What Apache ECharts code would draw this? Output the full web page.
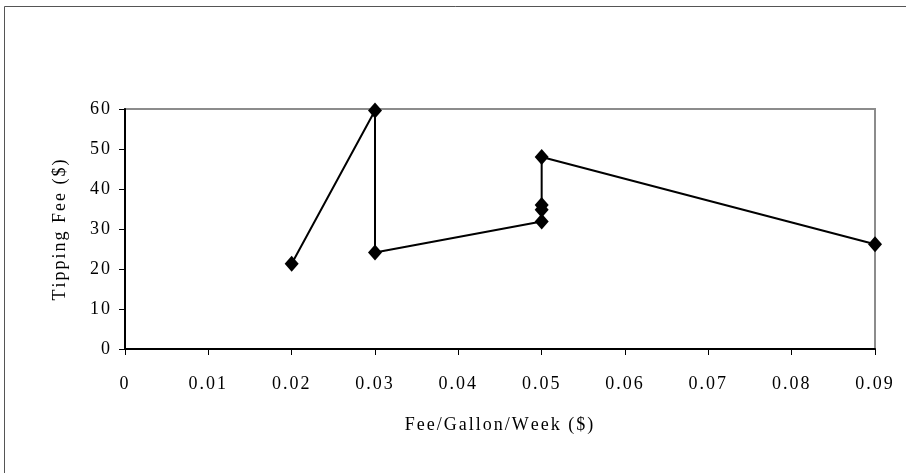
<!DOCTYPE html>
<html>
<head>
<meta charset="utf-8">
<script src="https://cdn.jsdelivr.net/npm/echarts@6/dist/echarts.min.js"></script>
<style>html,body{margin:0;padding:0;background:#fff}#c{width:906px;height:473px}</style>
</head>
<body>
<div id="c"></div>
<script>
const feePerGallon = [0.02, 0.03, 0.03, 0.05, 0.05, 0.05, 0.05, 0.09];
const tippingFee = [21.3, 59.6, 24.1, 31.9, 34.8, 36.0, 48.0, 26.2];
const xTitle = 'Fee/Gallon/Week ($)';
const yTitle = 'Tipping Fee ($)';

const font = 'Liberation Serif, Times New Roman, serif';
const FS = 18;
const LS = 2;
// letter-spaced text via rich tokens (one token per character)
const spaced = s => s.split('').map(c => '{s|' + c + '}').join('');
const richS = {s: {fontFamily: font, fontSize: FS, color: '#000', padding: [0, LS, 0, 0]}};

const chart = echarts.init(document.getElementById('c'), null, {renderer: 'canvas'});
chart.setOption({
  animation: false,
  backgroundColor: '#fff',
  graphic: [{
    type: 'rect', shape: {x: 4.5, y: 6.5, width: 1000, height: 1000},
    style: {fill: 'none', stroke: '#555', lineWidth: 1}, z: -1
  }],
  grid: {left: 125, top: 109, right: 31, bottom: 124, show: true, borderColor: '#8c8c8c', borderWidth: 2, backgroundColor: 'transparent'},
  xAxis: {
    type: 'value', min: 0, max: 0.09, interval: 0.01,
    name: spaced(xTitle), nameLocation: 'middle', nameGap: 67,
    nameTextStyle: {fontFamily: font, fontSize: FS, color: '#000', rich: richS},
    axisLine: {show: true, lineStyle: {color: '#000', width: 2}},
    axisTick: {show: true, inside: false, length: 6, lineStyle: {color: '#000', width: 1}},
    axisLabel: {fontFamily: font, fontSize: FS, color: '#000', margin: 26, rich: richS,
      formatter: v => spaced(Math.abs(v) < 1e-9 ? '0' : v.toFixed(2))},
    splitLine: {show: false}
  },
  yAxis: {
    type: 'value', min: 0, max: 60, interval: 10,
    name: spaced(yTitle), nameLocation: 'middle', nameGap: 56, nameRotate: 90,
    nameTextStyle: {fontFamily: font, fontSize: FS, color: '#000', rich: richS},
    axisLine: {show: true, lineStyle: {color: '#000', width: 2}},
    axisTick: {show: true, inside: false, length: 6, lineStyle: {color: '#000', width: 1}},
    axisLabel: {fontFamily: font, fontSize: FS, color: '#000', margin: 13, rich: richS,
      formatter: v => spaced(String(v))},
    splitLine: {show: false}
  },
  series: [{
    type: 'line',
    data: feePerGallon.map((x, i) => [x, tippingFee[i]]),
    symbol: 'diamond', symbolSize: [14, 16],
    itemStyle: {color: '#000'},
    lineStyle: {color: '#000', width: 2},
    clip: false
  }]
});
</script>
</body>
</html>
